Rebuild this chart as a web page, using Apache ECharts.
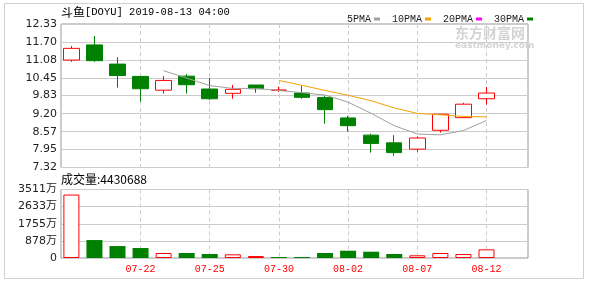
<!DOCTYPE html>
<html><head><meta charset="utf-8">
<script src="https://cdn.jsdelivr.net/npm/echarts@6.0.0/dist/echarts.min.js"></script>
<style>html,body{margin:0;padding:0;background:#fff}#c{width:590px;height:285px}</style>
</head><body><div id="c"></div>
<script>
// ---- data ----
const dates = ['07-17','07-18','07-19','07-22','07-23','07-24','07-25','07-26','07-29','07-30','07-31','08-01','08-02','08-05','08-06','08-07','08-08','08-09','08-12'];
const openP  = [11.07,11.60,10.93,10.50,10.02,10.51,10.06, 9.91,10.20,10.02, 9.92, 9.76, 9.05, 8.45, 8.18, 7.96, 8.62, 9.06, 9.72];
const closeP = [11.48,11.05,10.53,10.07,10.36,10.21, 9.72,10.05,10.07,10.02, 9.77, 9.34, 8.78, 8.16, 7.84, 8.35, 9.18, 9.53, 9.92];
const lowP   = [11.01,11.01,10.11, 9.62, 9.90, 9.90, 9.68, 9.72, 9.93, 9.96, 9.72, 8.85, 8.57, 7.84, 7.73, 7.87, 8.54, 9.06, 9.51];
const highP  = [11.56,11.91,11.17,10.51,10.51,10.58,10.45,10.20,10.20,10.14,10.17, 9.82, 9.12, 8.50, 8.45, 8.40, 9.19, 9.58,10.13];
const volume = [3253, 920, 613, 511, 256, 256, 204, 189, 100, 51, 51, 256, 373, 322, 204, 138, 256, 204, 443.0688]; // 万
const ma5  = [null,null,null,null,10.70,10.44,10.18,10.08,10.08,10.01,9.93,9.85,9.60,9.21,8.78,8.49,8.46,8.61,8.96];
const ma10 = [null,null,null,null,null,null,null,null,null,10.36,10.19,10.01,9.84,9.65,9.40,9.21,9.16,9.10,9.09];
const ma20 = [];
const ma30 = [];
const priceTicks = ['7.32','7.95','8.57','9.20','9.83','10.45','11.08','11.70','12.33'];
const volTicks = ['0','878万','1755万','2633万','3511万'];
const dateLabelIdx = [3,6,9,12,15,18];
const stockName = '斗鱼';
const titleRest = '[DOYU] 2019-08-13 04:00';
const volTitle = '成交量:4430688';
const maNames = ['5PMA','10PMA','20PMA','30PMA'];
const maColors = ['#a0a0a0','#f2a400','#ff00ff','#008000'];

// ---- chart ----
const UP = '#ff0000', DOWN = '#008000';
const chart = echarts.init(document.getElementById('c'), null, {renderer:'canvas'});
const xMin = -0.45, xMax = 19.8;
const priceVals = priceTicks.map(parseFloat);
const volVals = volTicks.map(parseFloat);
const mono = '"Liberation Mono","Noto Sans CJK SC",monospace';
const sans = '"DejaVu Sans","Noto Sans CJK SC",sans-serif';
const gridStyle = {show:true, left:61, right:62, borderColor:'#999', borderWidth:1, backgroundColor:'transparent'};
const xCommon = {
  type:'value', min:xMin, max:xMax,
  axisLine:{show:false}, axisTick:{show:false, customValues:dateLabelIdx},
  splitLine:{show:true, lineStyle:{color:'#ccc', type:[4,3], width:1}}
};
const maSeries = [ma5, ma10, ma20, ma30].map((arr, k) => ({
  name: maNames[k], type:'line', xAxisIndex:0, yAxisIndex:0,
  data: arr.map((v,i)=>[i,v]).filter(p=>p[1]!=null),
  symbol:'none', lineStyle:{width:1, color:maColors[k]}, itemStyle:{color:maColors[k]}, z:5
}));
const volData = volume.map((v,i)=>{
  const up = i === 0 ? closeP[i] >= openP[i] : closeP[i] >= closeP[i-1];
  return {value:[i,v], itemStyle: up ? {color:'#fff', borderColor:UP, borderWidth:1} : {color:DOWN, borderColor:DOWN, borderWidth:0}};
});
chart.setOption({
  animation:false,
  backgroundColor:'#fff',
  graphic:[
    {type:'rect', shape:{x:4.5, y:3.5, width:579, height:275}, style:{fill:'none', stroke:'#d0d0d0', lineWidth:1}, silent:true, z:-1},
    {type:'text', left:61, top:6, style:{text:'{a|'+stockName+'}{b|'+titleRest+'}', rich:{a:{fontFamily:'"Noto Sans CJK SC"', fontSize:12, fill:'#000'}, b:{fontFamily:mono, fontSize:10.5, fill:'#000'}}}},
    {type:'text', left:61, top:173, style:{text:volTitle, fontFamily:'"Noto Sans CJK SC"', fontSize:12, fill:'#000'}},
    {type:'text', left:455, top:26, style:{text:'东方财富网', fontFamily:'"Noto Sans CJK SC"', fontSize:14, fontWeight:'bold', fill:'#d4d4d4'}, z:0},
    {type:'text', left:455, top:41, style:{text:'eastmoney.com', fontFamily:'"DejaVu Sans"', fontSize:9, fontWeight:'bold', fill:'#d4d4d4'}, z:0}
  ],
  legend:{
    left:342, top:9, data:maNames.map(n=>({name:n, icon:'rect'})), align:'right',
    itemWidth:6, itemHeight:3, itemGap:12, selectedMode:false,
    textStyle:{fontFamily:mono, fontSize:10, color:'#222', padding:[0,-2,0,0]}
  },
  grid:[
    Object.assign({top:24, height:143.5}, gridStyle),
    Object.assign({top:189.5, height:68.5}, gridStyle)
  ],
  xAxis:[
    Object.assign({gridIndex:0, axisLabel:{show:false}}, xCommon),
    Object.assign({gridIndex:1, axisLabel:{show:true, customValues:dateLabelIdx, formatter:v=>dates[Math.round(v)], color:UP, fontFamily:mono, fontSize:10, margin:6}}, xCommon)
  ],
  yAxis:[
    {gridIndex:0, type:'value', min:priceVals[0], max:priceVals[priceVals.length-1],
     axisLine:{show:false}, axisTick:{show:false, customValues:priceVals},
     axisLabel:{customValues:priceVals, formatter:v=>priceTicks[priceVals.indexOf(v)], color:'#222', fontFamily:sans, fontSize:11, margin:4},
     splitLine:{show:true, lineStyle:{color:'#ccc', width:1}}},
    {gridIndex:1, type:'value', min:0, max:volVals[volVals.length-1],
     axisLine:{show:false}, axisTick:{show:false, customValues:volVals},
     axisLabel:{customValues:volVals, formatter:v=>volTicks[volVals.indexOf(v)], color:'#222', fontFamily:sans, fontSize:11, margin:4},
     splitLine:{show:true, lineStyle:{color:'#ccc', width:1}}}
  ],
  series:[
    {type:'candlestick', name:'K', xAxisIndex:0, yAxisIndex:0, barWidth:16,
     data: dates.map((d,i)=>[i, openP[i], closeP[i], lowP[i], highP[i]]),
     itemStyle:{color:'#fff', color0:DOWN, borderColor:UP, borderColor0:DOWN, borderColorDoji:UP, borderWidth:1}, z:3},
    ...maSeries,
    {type:'bar', name:'VOL', xAxisIndex:1, yAxisIndex:1, barWidth:16, data:volData}
  ]
});
</script></body></html>
